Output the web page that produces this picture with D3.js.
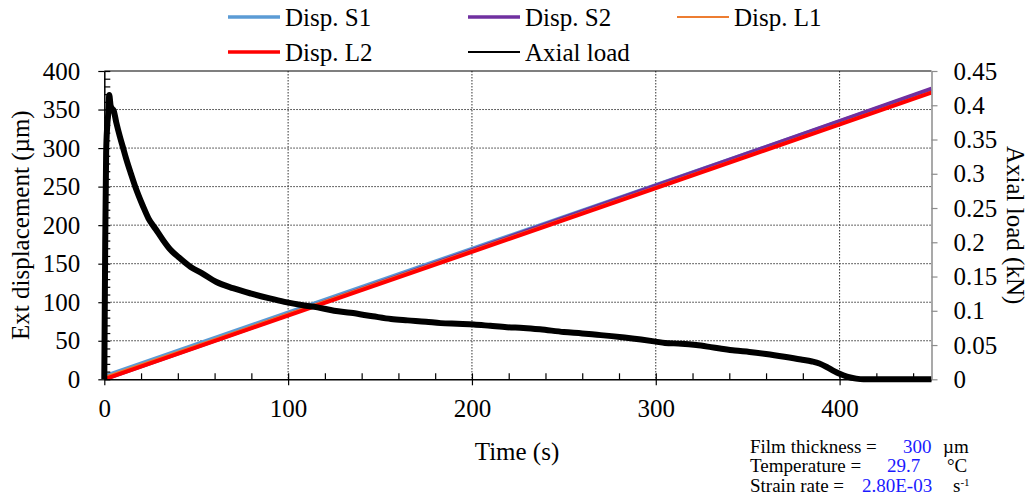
<!DOCTYPE html>
<html>
<head>
<meta charset="utf-8">
<script src="https://cdn.jsdelivr.net/npm/d3@7/dist/d3.min.js"></script>
<style>
  html, body { margin: 0; padding: 0; background: #fff; }
  svg, svg text { font-family: "Liberation Serif", Tinos, "Times New Roman", Times, "DejaVu Serif", serif; }
  svg { display: block; }
</style>
</head>
<body>
<svg id="chart" width="1032" height="503"></svg>
<script>
// ---------------- data ----------------
const seriesNames = ["Disp. S1", "Disp. S2", "Disp. L1", "Disp. L2", "Axial load"];
const dispTime = [0, 450];
const dispS1 = [4, 376];
const dispS2 = [0, 377];
const dispL1 = [3, 373];
const dispL2 = [0, 372];

const loadTime = [0, 0.5, 1, 1.6, 2.2, 2.7, 3.4, 4.2, 5, 6.5, 8.5, 10, 12, 14.5, 17, 21, 24, 28, 32, 36, 41, 47, 53, 61, 70, 80, 90, 98, 108, 116, 125, 134, 146, 156, 165, 175, 183, 192, 201, 210, 219, 228, 237, 250, 260, 268, 276, 283, 292, 300, 305, 314, 322, 330, 335, 343, 351, 360, 370, 379, 385, 389, 393, 397, 400, 404, 409, 413, 417, 425, 435, 450];
const loadKN = [0, 0.2, 0.33, 0.37, 0.39, 0.415, 0.40, 0.395, 0.393, 0.375, 0.354, 0.34, 0.321, 0.30, 0.28, 0.253, 0.235, 0.219, 0.203, 0.189, 0.177, 0.164, 0.155, 0.142, 0.133, 0.125, 0.118, 0.113, 0.108, 0.105, 0.100, 0.097, 0.092, 0.088, 0.086, 0.084, 0.082, 0.081, 0.080, 0.078, 0.076, 0.075, 0.073, 0.069, 0.067, 0.065, 0.063, 0.061, 0.058, 0.055, 0.053, 0.052, 0.050, 0.047, 0.045, 0.042, 0.040, 0.037, 0.033, 0.029, 0.026, 0.023, 0.018, 0.012, 0.008, 0.004, 0.001, 0, 0, 0, 0, 0];

const xTicks = [0, 100, 200, 300, 400];
const xMinorTicks = d3.range(0, 451, 20);
const leftTicks = [0, 50, 100, 150, 200, 250, 300, 350, 400];
const leftMinorTicks = d3.range(0, 401, 10);
const rightTicks = [0, 0.05, 0.1, 0.15, 0.2, 0.25, 0.3, 0.35, 0.4, 0.45];
const rightTickLabels = ["0", "0.05", "0.1", "0.15", "0.2", "0.25", "0.3", "0.35", "0.4", "0.45"];

const annotLabels = ["Film thickness = ", "Temperature = ", "Strain rate = "];
const annotValues = ["300", "29.7", "2.80E-03"];
const annotUnits = ["µm", "°C", "s"];

// ---------------- layout ----------------
const FONT = '"Liberation Serif", Tinos, "Times New Roman", Times, "DejaVu Serif", serif';
const X0 = 104.3, X1 = 931.5, Y0 = 71, Y1 = 379.3;
const colors = ["#5B9BD5", "#7030A0", "#ED7D31", "#FF0000", "#000000"];
const widths = [4, 4, 2, 4, 6];
const legendWidths = [3.5, 3.5, 2, 3.5, 2];

const svg = d3.select("#chart").attr("font-family", FONT);
const x = d3.scaleLinear().domain([0, 450]).range([X0, X1]);
const yL = d3.scaleLinear().domain([0, 400]).range([Y1, Y0]);
const yR = d3.scaleLinear().domain([0, 0.45]).range([Y1, Y0]);

svg.append("defs").append("clipPath").attr("id", "clip")
  .append("rect").attr("x", X0).attr("y", Y0 - 2).attr("width", X1 - X0).attr("height", Y1 - Y0 + 2);

// gridlines
const grid = svg.append("g").attr("stroke", "#333").attr("stroke-width", 1).attr("stroke-dasharray", "1.5,1.5");
grid.selectAll("line.h").data(leftTicks.filter(v => v > 0 && v < 400)).join("line")
  .attr("x1", X0).attr("x2", X1).attr("y1", d => yL(d)).attr("y2", d => yL(d));
grid.selectAll("line.v").data(xTicks.filter(v => v > 0)).join("line")
  .attr("y1", Y0).attr("y2", Y1).attr("x1", d => x(d)).attr("x2", d => x(d));

// top border
svg.append("line").attr("x1", X0).attr("x2", X1).attr("y1", Y0).attr("y2", Y0)
  .attr("stroke", "#000").attr("stroke-width", 1.2);

// series
const dispSeries = [dispS1, dispS2, dispL1, dispL2];
const lineGen = d3.line().x(d => x(d[0])).y(d => d[1]);
const plot = svg.append("g").attr("clip-path", "url(#clip)");
dispSeries.forEach((vals, i) => {
  const pts = dispTime.map((t, j) => [t, yL(vals[j])]);
  plot.append("path").attr("d", lineGen(pts)).attr("fill", "none")
    .attr("stroke", colors[i]).attr("stroke-width", widths[i]);
});
const loadPts = loadTime.map((t, j) => [t, yR(loadKN[j])]);
svg.append("path").attr("d", lineGen.curve(d3.curveMonotoneX)(loadPts)).attr("fill", "none")
  .attr("stroke", "#000").attr("stroke-width", widths[4]).attr("stroke-linejoin", "round");

// axes
const fs = 25;
function styleAxis(g, color) {
  g.attr("font-family", FONT);
  g.select(".domain").attr("stroke", color).attr("stroke-width", 1.5);
  g.selectAll(".tick line").attr("stroke", color).attr("stroke-width", 1.2);
  g.selectAll(".tick text").attr("fill", "#000").attr("font-size", fs);
}
svg.append("g").attr("transform", `translate(${X0},0)`)
  .call(d3.axisLeft(yL).tickValues(leftMinorTicks).tickSize(-6).tickFormat(""))
  .call(g => { g.select(".domain").remove(); g.selectAll(".tick line").attr("stroke", "#000").attr("stroke-width", 1.2); });
const gl = svg.append("g").attr("transform", `translate(${X0},0)`)
  .call(d3.axisLeft(yL).tickValues(leftTicks).tickSize(6).tickSizeOuter(0).tickPadding(18));
styleAxis(gl, "#000");

svg.append("g").attr("transform", `translate(0,${Y1})`)
  .call(d3.axisBottom(x).tickValues(xMinorTicks).tickSize(-6).tickFormat(""))
  .call(g => { g.select(".domain").remove(); g.selectAll(".tick line").attr("stroke", "#000").attr("stroke-width", 1.2); });
const gb = svg.append("g").attr("transform", `translate(0,${Y1})`)
  .call(d3.axisBottom(x).tickValues(xTicks).tickSize(6).tickSizeOuter(0).tickPadding(14));
styleAxis(gb, "#000");

const gr = svg.append("g").attr("transform", `translate(${X1},0)`)
  .call(d3.axisRight(yR).tickValues(rightTicks).tickSize(6).tickSizeOuter(0).tickPadding(16)
    .tickFormat((d, i) => rightTickLabels[i]));
styleAxis(gr, "#8c8c8c");

// axis titles
svg.append("text").attr("x", 517).attr("y", 460).attr("text-anchor", "middle")
  .attr("font-size", fs).text("Time (s)");
svg.append("text").attr("transform", `translate(29,${(Y0 + Y1) / 2}) rotate(-90)`)
  .attr("text-anchor", "middle").attr("font-size", fs).text("Ext displacement (µm)");
svg.append("text").attr("transform", `translate(1007,${(Y0 + Y1) / 2}) rotate(90)`)
  .attr("text-anchor", "middle").attr("font-size", fs).text("Axial load (kN)");

// legend
const legendPos = [[228, 17], [468, 17], [677, 17], [228, 52], [468, 52]];
const lg = svg.append("g");
seriesNames.forEach((name, i) => {
  const [lx, ly] = legendPos[i];
  lg.append("line").attr("x1", lx).attr("x2", lx + 52).attr("y1", ly).attr("y2", ly)
    .attr("stroke", colors[i]).attr("stroke-width", legendWidths[i]);
  lg.append("text").attr("x", lx + 57).attr("y", ly + 8.5).attr("font-size", fs).text(name);
});

// annotation
const annY = [453, 472, 492];
const valX = [903, 887, 862];
const unitX = [943, 947, 953];
annotLabels.forEach((t, i) => {
  svg.append("text").attr("x", 750).attr("y", annY[i]).attr("font-size", 19).text(t);
  svg.append("text").attr("x", valX[i]).attr("y", annY[i]).attr("font-size", 19).attr("fill", "#1a1aff").text(annotValues[i]);
  const u = svg.append("text").attr("x", unitX[i]).attr("y", annY[i]).attr("font-size", 19).text(annotUnits[i]);
  if (i === 2) u.append("tspan").attr("font-size", 11).attr("dy", -6).text("-1");
});
</script>
</body>
</html>
